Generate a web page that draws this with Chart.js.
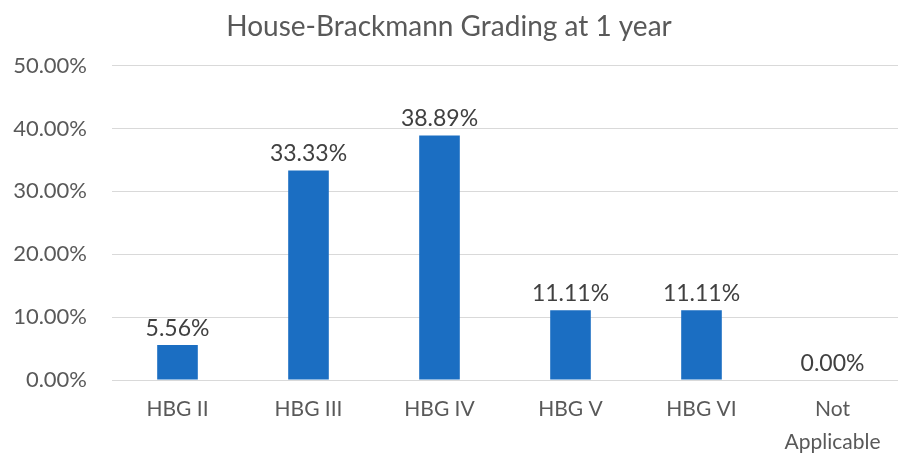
<!DOCTYPE html>
<html>
<head>
<meta charset="utf-8">
<script src="https://cdn.jsdelivr.net/npm/chart.js@4"></script>
<style>
  html, body { margin: 0; padding: 0; background: #fff; }
  #wrap { width: 898px; height: 457px; }
</style>
</head>
<body>
<div id="wrap"><canvas id="myChart" width="898" height="457"></canvas></div>
<script>
var categories = ['HBG II', 'HBG III', 'HBG IV', 'HBG V', 'HBG VI', ['Not', 'Applicable']];
var percents = [5.56, 33.33, 38.89, 11.11, 11.11, 0.00];
var yTicks = [0, 10, 20, 30, 40, 50];

var fontName = 'Lato, "Open Sans", sans-serif';

// draws the value above each bar
var barLabels = {
  id: 'barLabels',
  afterDatasetsDraw: function(chart) {
    var ctx = chart.ctx;
    var meta = chart.getDatasetMeta(0);
    ctx.save();
    ctx.font = '23px ' + fontName;
    ctx.fillStyle = '#404040';
    ctx.textAlign = 'center';
    ctx.textBaseline = 'bottom';
    meta.data.forEach(function(bar, i) {
      ctx.fillText(percents[i].toFixed(2) + '%', bar.x, bar.y - 5);
    });
    ctx.restore();
  }
};

var ctx = document.getElementById('myChart');
var myChart = new Chart(ctx, {
  type: 'bar',
  data: {
    labels: categories,
    datasets: [{
      label: 'HBG',
      data: percents,
      backgroundColor: '#1b6ec2',
      barPercentage: 0.31,
      categoryPercentage: 1.0
    }]
  },
  options: {
    responsive: false,
    animation: false,
    layout: { padding: { left: 0, right: 0, top: 0, bottom: 0 } },
    plugins: {
      legend: { display: false },
      tooltip: { enabled: false },
      title: {
        display: true,
        text: 'House-Brackmann Grading at 1 year',
        color: '#595959',
        font: { family: fontName, size: 28, weight: 'normal' },
        padding: { top: 10, bottom: 22 }
      }
    },
    scales: {
      x: {
        grid: { display: false, drawTicks: false },
        border: { display: false },
        ticks: {
          color: '#595959',
          font: { family: fontName, size: 21, lineHeight: 1.55 },
          padding: 13,
          maxRotation: 0,
          autoSkip: false
        },
        afterFit: function(axis) { axis.height = 77; }
      },
      y: {
        min: 0,
        max: 50,
        afterBuildTicks: function(axis) {
          axis.ticks = yTicks.map(function(v) { return { value: v }; });
        },
        grid: { color: '#d9d9d9', lineWidth: 1, drawTicks: false },
        border: { display: false },
        ticks: {
          color: '#595959',
          font: { family: fontName, size: 22 },
          padding: 25,
          callback: function(v) { return v.toFixed(2) + '%'; }
        },
        afterFit: function(axis) { axis.width = 112; }
      }
    }
  },
  plugins: [barLabels]
});
</script>
</body>
</html>
